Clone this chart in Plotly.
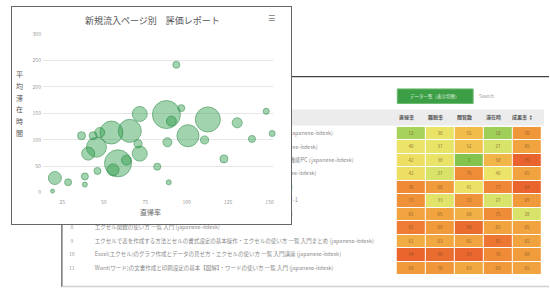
import plotly.graph_objects as go

W, H = 550, 291
FONT = "Noto Sans CJK JP"

# ---------------- bubble chart data ----------------
bounce_rate = [93.8, 148.0, 151.6, 130.5, 139.4, 112.8, 100.8, 110.8, 122.5, 87.8,
               96.8, 90.8, 88.4, 89.2, 82.3, 71.7, 65.7, 54.6, 58.6, 71.7,
               70.7, 45.6, 40.6, 36.6, 43.6, 46.2, 38.6, 38.6, 28.5, 20.5,
               19.1, 55.6, 63.7, 47.6]
avg_time = [241.7, 153.7, 111.8, 132.0, 101.5, 138.4, 107.6, 99.6, 63.8, 147.6,
            159.8, 135.2, 95.2, 19.6, 49.1, 148.7, 116.8, 113.7, 55.4, 73.8,
            92.3, 86.0, 73.8, 107.6, 107.6, 41.1, 30.6, 15.3, 19.6, 27.7,
            3.0, 43.0, 61.4, 113.7]
sessions = [486, 362, 358, 1004, 492, 6248, 4836, 642, 638, 7840,
            488, 996, 812, 252, 494, 2246, 5290, 5286, 7292, 2254,
            644, 3998, 1688, 640, 636, 490, 492, 248, 488, 1692,
            160, 1442, 1002, 998]
x_ticks = [25, 50, 75, 100, 125, 150]
y_ticks = [0, 50, 100, 150, 200, 250, 300]
chart_title = "新規流入ページ別　評価レポート"
x_title = "直帰率"
y_title = "平均滞在時間"

# ---------------- table / heatmap data ----------------
columns = ["直帰率", "離脱率", "閲覧数", "滞在時", "成果率 ↕"]
row_numbers = ["1", "2", "3", "4", "5", "6", "7", "8", "9", "10", "11"]
row_labels = [
    "パソコン初心者のためのキーボード入力とショートカットキー一覧表の使い方 (japanese-itdesk)",
    "ワードで文書を作成する基本操作と段落・インデントの設定方法 入門編 (japanese-itdesk)",
    "パワーポイントでスライドを作成する手順とアニメーション効果の使い方 入門 機能PC (japanese-itdesk)",
    "インターネットの基本とメールの送受信・設定方法をわかりやすく解説 (japanese-itdesk)",
    "エクセルの条件付き書式で色分けする方法とルールの管理・編集のやり方まとめ",
    "ワードの差し込み印刷で宛名ラベルを作成する方法と手順の確認用テストページ-1",
    "パソコンのファイル管理とフォルダの作成・整理・バックアップの基本方法 test",
    "エクセル関数の使い方 一覧 入門 (japanese-itdesk)",
    "エクセルで表を作成する方法とセルの書式設定の基本操作・エクセルの使い方 一覧 入門まとめ (japanese-itdesk)",
    "Excel(エクセル)のグラフ作成とデータの見せ方・エクセルの使い方 一覧 入門講座 (japanese-itdesk)",
    "Word(ワード)の文書作成と印刷設定の基本【図解】・ワードの使い方 一覧 入門 (japanese-itdesk)",
]
scores = [
    [12, 38, 55, 10, 70],
    [40, 37, 52, 27, 65],
    [42, 38, 3, 58, 95],
    [42, 27, 75, 40, 65],
    [76, 68, 41, 77, 94],
    [73, 33, 72, 27, 69],
    [65, 65, 60, 75, 28],
    [82, 69, 90, 65, 65],
    [61, 63, 65, 85, 65],
    [94, 90, 93, 76, 68],
    [69, 70, 63, 69, 65],
]
button_text = "データ一覧（表示切替）"
search_text = "Search:"


def px(x):
    return x / W


def py(y):
    return 1 - y / H


fig = go.Figure()

# ---- back panel: heatmap table (subplot 1) ----
col_idx = list(range(len(columns)))
row_idx = list(range(len(row_labels)))
fig.add_trace(go.Heatmap(
    z=scores, x=col_idx, y=row_idx, zmin=0, zmax=100,
    colorscale=[[0, '#78bf4a'], [0.22, '#cfe36a'], [0.4, '#ece468'],
                [0.55, '#f2bc4a'], [0.68, '#f09c3c'], [0.82, '#ee7c34'],
                [1, '#e65a2a']],
    showscale=False, xgap=1, ygap=1, hoverinfo='skip',
    texttemplate='%{z}', textfont=dict(size=4.5, color='rgba(110,70,30,0.75)'),
    xaxis='x', yaxis='y'))

CELL_W, CELL_H = 29.0, 13.8
COL0, ROW0 = 412.0, 132.9
label_x = (95 - COL0) / CELL_W
num_x = (72 - COL0) / CELL_W
fig.add_trace(go.Scatter(
    x=[label_x] * len(row_labels), y=row_idx, text=row_labels, mode='text',
    textposition='middle right', textfont=dict(size=5.5, color='#8a8a8a', family=FONT),
    hoverinfo='skip', showlegend=False, xaxis='x', yaxis='y'))
fig.add_trace(go.Scatter(
    x=[num_x] * len(row_numbers), y=row_idx, text=row_numbers, mode='text',
    textposition='middle center', textfont=dict(size=5, color='#999999', family=FONT),
    hoverinfo='skip', showlegend=False, xaxis='x', yaxis='y'))

# ---- front panel white card (subplot 2) ----
fig.add_trace(go.Scatter(x=[], y=[], xaxis='x2', yaxis='y2', hoverinfo='skip',
                         showlegend=False))

# ---- bubble chart (subplot 3) ----
fig.add_trace(go.Scatter(
    x=bounce_rate, y=avg_time, mode='markers',
    marker=dict(size=sessions, sizemode='area', sizeref=2 * max(sessions) / 28 ** 2,
                color='rgba(40,155,70,0.62)',
                line=dict(color='rgba(30,130,58,0.8)', width=1)),
    cliponaxis=False, hoverinfo='skip', showlegend=False, xaxis='x3', yaxis='y3'))

dom1_top, dom1_bot = 74.5, 289.0
hidden = dict(visible=False, fixedrange=True)
fig.update_layout(
    width=W, height=H, margin=dict(l=0, r=0, t=0, b=0),
    paper_bgcolor='white', plot_bgcolor='white',
    font=dict(family=FONT),
    hovermode=False,
    xaxis=dict(domain=[px(62), 1.0],
               range=[(62 - COL0) / CELL_W, (550 - COL0) / CELL_W], **hidden),
    yaxis=dict(domain=[py(dom1_bot), py(dom1_top)],
               range=[(dom1_bot - ROW0) / CELL_H, (dom1_top - ROW0) / CELL_H], **hidden),
    xaxis2=dict(domain=[px(12.5), px(291.5)], range=[0, 1], anchor='y2',
                showline=True, mirror=True, linecolor='#666666', linewidth=1.2,
                showticklabels=False, showgrid=False, zeroline=False, ticks='',
                fixedrange=True),
    yaxis2=dict(domain=[py(225.5), py(3)], range=[0, 1], anchor='x2',
                showline=True, mirror=True, linecolor='#666666', linewidth=1.2,
                showticklabels=False, showgrid=False, zeroline=False, ticks='',
                fixedrange=True),
    xaxis3=dict(domain=[px(43), px(273)], range=[13.3, 151.8], anchor='y3',
                tickvals=x_ticks, ticktext=[str(v) for v in x_ticks],
                showgrid=False, zeroline=False, showline=False, ticks='',
                ticklabelstandoff=5,
                tickfont=dict(size=5, color='#999999'), fixedrange=True),
    yaxis3=dict(domain=[py(193.3), py(30.7)], range=[0, 300], anchor='x3',
                tickvals=y_ticks, ticktext=[str(v) for v in y_ticks],
                showgrid=True, gridcolor='#e6e6e6', gridwidth=1,
                zeroline=False, showline=False, ticks='', ticklabelstandoff=1,
                tickfont=dict(size=5, color='#999999'), fixedrange=True),
)

# ---- back panel decorations (below everything) ----
shapes = [
    dict(type='rect', xref='paper', yref='paper', x0=px(62), x1=px(545),
         y0=py(124.5), y1=py(108), fillcolor='#ececec', line=dict(width=0), layer='below'),
    dict(type='line', xref='paper', yref='paper', x0=px(62), x1=1.0,
         y0=py(74.5), y1=py(74.5), line=dict(color='#444444', width=1.2), layer='below'),
    dict(type='line', xref='paper', yref='paper', x0=px(62), x1=px(62),
         y0=py(74.5), y1=py(290), line=dict(color='#555555', width=1.2), layer='below'),
    dict(type='line', xref='paper', yref='paper', x0=px(62), x1=1.0,
         y0=py(289.5), y1=py(289.5), line=dict(color='#d0d0d0', width=1.5), layer='below'),
    dict(type='rect', xref='paper', yref='paper', x0=px(398), x1=px(474),
         y0=py(102), y1=py(87), fillcolor='#3c9f45',
         line=dict(color='#6dbb6f', width=1), layer='below'),
]
fig.update_layout(shapes=shapes)


def note(text, x, y, size, color, xanchor='center', yanchor='middle', family=FONT):
    return dict(text=text, x=px(x), y=py(y), xref='paper', yref='paper',
                xanchor=xanchor, yanchor=yanchor, showarrow=False,
                font=dict(size=size, color=color, family=family))


ann = [
    note(chart_title, 153, 17, 9, '#555555'),
    note('☰', 272, 15, 8, '#777777', family='DejaVu Sans'),
    note(x_title, 151, 213, 7, '#666666'),
    note(button_text, 436, 94.5, 4.5, 'rgba(255,255,255,0.85)'),
    note(search_text, 478, 94.5, 4.5, '#999999', xanchor='left'),
]
# vertical (stacked) y-axis title, one character per line, 12 px apart
for k, ch in enumerate(y_title):
    ann.append(note(ch, 20, 72 + 12 * k, 7, '#555555'))
for i, c in enumerate(columns):
    ann.append(dict(text='<b>' + c + '</b>', x=i, y=(116 - ROW0) / CELL_H, xref='x', yref='y',
                    xanchor='center', yanchor='middle',
                    xshift=-5, showarrow=False, font=dict(size=5, color='#555555')))
fig.update_layout(annotations=ann)

fig.write_html("out.html",
               config={'displayModeBar': False, 'staticPlot': True},
               post_script="document.body.style.margin='0px';"
                           "document.body.style.overflow='hidden';")
